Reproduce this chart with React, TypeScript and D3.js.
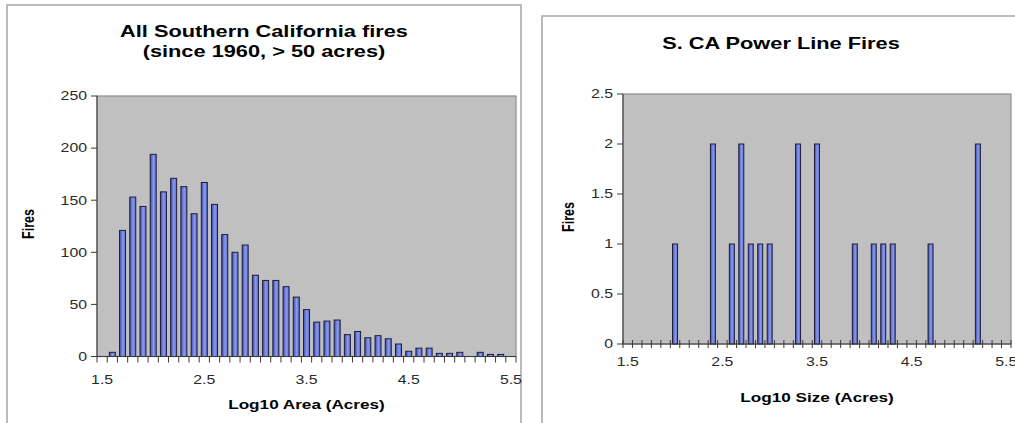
import * as d3 from 'd3';

// log10 size bins shared by both histograms
const sizeBins = [
  "1.5", "1.6", "1.7", "1.8", "1.9", "2.0", "2.1", "2.2", "2.3", "2.4",
  "2.5", "2.6", "2.7", "2.8", "2.9", "3.0", "3.1", "3.2", "3.3", "3.4",
  "3.5", "3.6", "3.7", "3.8", "3.9", "4.0", "4.1", "4.2", "4.3", "4.4",
  "4.5", "4.6", "4.7", "4.8", "4.9", "5.0", "5.1", "5.2", "5.3", "5.4", "5.5",
];

const allFires = [
  0, 4, 121, 153, 144, 194, 158, 171, 163, 137,
  167, 146, 117, 100, 107, 78, 73, 73, 67, 57,
  45, 33, 34, 35, 21, 24, 18, 20, 17, 12,
  5, 8, 8, 3, 3, 4, 0, 4, 2, 2, 0,
];

const powerLineFires = [
  0, 0, 0, 0, 0, 1, 0, 0, 0, 2,
  0, 1, 2, 1, 1, 1, 0, 0, 2, 0,
  2, 0, 0, 0, 1, 0, 1, 1, 1, 0,
  0, 0, 1, 0, 0, 0, 0, 2, 0, 0, 0,
];

const leftYTicks = [0, 50, 100, 150, 200, 250];
const rightYTicks = [0, 0.5, 1, 1.5, 2, 2.5];
const xTickLabels = ["1.5", "2.5", "3.5", "4.5", "5.5"];

const FONT = "'Liberation Sans', Arial, sans-serif";
const SX = 1.32; // the picture is stretched sideways

const WideText = ({ x, y, size, bold = false, anchor = "middle", fill = "#000", children }: any) => (
  <text
    transform={`translate(${x},${y}) scale(${SX},1)`}
    fontFamily={FONT}
    fontSize={size}
    fontWeight={bold ? "bold" : "normal"}
    textAnchor={anchor}
    fill={fill}
  >
    {children}
  </text>
);

const Panel = ({ id, frame, plot, values, yTicks, yMax, titles, titleY, xTitle, xTitleY, xLabelY,
  yTitleX, yTitleY, barW, crossTicks }: any) => {
  const x = d3.scaleBand().domain(sizeBins).range([plot.left, plot.right]);
  const y = d3.scaleLinear().domain([0, yMax]).range([plot.bottom, plot.top]);
  const cx = (frame.left + frame.right) / 2;
  const step = x.step();
  const bounds = d3.range(sizeBins.length + 1).map(i => plot.left + i * step);

  return (
    <g clipPath={`url(#clip-${id})`}>
      <defs>
        <clipPath id={`clip-${id}`}>
          <rect x={frame.left - 2} y={frame.top - 2} width={frame.right - frame.left + 3} height={440} />
        </clipPath>
        <linearGradient id={`bar-${id}`} x1="0" x2="1" y1="0" y2="0">
          <stop offset="0%" stopColor="#3c4aa6" />
          <stop offset="55%" stopColor="#8a9bf0" />
          <stop offset="100%" stopColor="#5767c8" />
        </linearGradient>
      </defs>
      <rect x={frame.left} y={frame.top} width={frame.right - frame.left} height={460}
        fill="#fff" stroke="#ababab" strokeWidth={1.6} />
      {titles.map((t: string, i: number) => (
        <WideText key={t} x={cx} y={titleY + i * 20} size={16.5} bold>{t}</WideText>
      ))}
      <rect x={plot.left} y={plot.top} width={plot.right - plot.left} height={plot.bottom - plot.top}
        fill="#c0c0c0" stroke="#8e8e8e" strokeWidth={1.2} />
      {values.map((v: number, i: number) => v > 0 && (
        <rect key={i}
          x={x(sizeBins[i])! + step / 2 - barW / 2}
          y={y(v)}
          width={barW}
          height={y(0) - y(v)}
          fill={`url(#bar-${id})`}
          stroke="#1e1e3a"
          strokeWidth={1}
        />
      ))}
      {/* y axis */}
      <line x1={plot.left} x2={plot.left} y1={plot.top} y2={plot.bottom} stroke="#3a3a3a" />
      {yTicks.map((t: number) => (
        <g key={t}>
          <line x1={plot.left - 6} x2={plot.left} y1={y(t)} y2={y(t)} stroke="#3a3a3a" />
          <WideText x={plot.left - 10} y={y(t) + 4.3} size={12} anchor="end" fill="#2a2a2a">{t}</WideText>
        </g>
      ))}
      {/* x axis */}
      <line x1={plot.left} x2={plot.right} y1={plot.bottom} y2={plot.bottom} stroke="#3a3a3a" />
      {bounds.map((b: number, i: number) => (
        <line key={i} x1={b} x2={b} y1={crossTicks ? plot.bottom - 4 : plot.bottom}
          y2={plot.bottom + (crossTicks ? 4 : 6)} stroke="#3a3a3a" />
      ))}
      {xTickLabels.map(l => (
        <WideText key={l} x={x(l)! + step / 2} y={xLabelY} size={12} fill="#2a2a2a">{l}</WideText>
      ))}
      <WideText x={(plot.left + plot.right) / 2} y={xTitleY} size={13} bold>{xTitle}</WideText>
      <text
        transform={`translate(${yTitleX},${yTitleY}) scale(${SX},1) rotate(-90)`}
        fontFamily={FONT} fontSize={12.5} fontWeight="bold" textAnchor="middle"
      >
        Fires
      </text>
    </g>
  );
};

export default function App() {
  return (
    <svg width={1015} height={423} style={{ position: 'absolute', left: 0, top: 0, background: '#fff' }}>
      <Panel
        id="all"
        frame={{ left: 7, top: 5, right: 521 }}
        plot={{ left: 97, right: 516, top: 96, bottom: 356.5 }}
        values={allFires}
        yTicks={leftYTicks}
        yMax={250}
        titles={["All Southern California fires", "(since 1960, > 50 acres)"]}
        titleY={37}
        xTitle="Log10 Area (Acres)"
        xTitleY={409}
        xLabelY={384}
        yTitleX={34}
        yTitleY={224}
        barW={6}
        crossTicks={false}
      />
      <Panel
        id="power"
        frame={{ left: 542, top: 16, right: 1020 }}
        plot={{ left: 623, right: 1011, top: 94, bottom: 344 }}
        values={powerLineFires}
        yTicks={rightYTicks}
        yMax={2.5}
        titles={["S. CA Power Line Fires"]}
        titleY={49}
        xTitle="Log10 Size (Acres)"
        xTitleY={402}
        xLabelY={366}
        yTitleX={574}
        yTitleY={217}
        barW={5}
        crossTicks={true}
      />
    </svg>
  );
}
